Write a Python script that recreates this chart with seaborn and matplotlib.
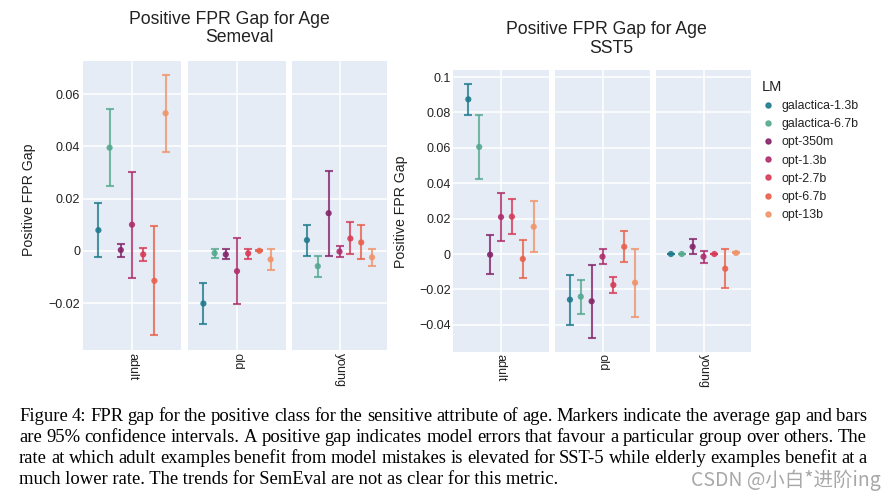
import numpy as np
import pandas as pd
import matplotlib
matplotlib.use("Agg")
import matplotlib.pyplot as plt
from matplotlib.lines import Line2D
import seaborn as sns

# ── DATA ──────────────────────────────────────────────────────
models = ["galactica-1.3b", "galactica-6.7b", "opt-350m", "opt-1.3b",
          "opt-2.7b", "opt-6.7b", "opt-13b"]
colors = ["#1f7a8c", "#55a98f", "#84246a", "#ae2d6c", "#d73b56", "#e9604b", "#f0946a"]
groups = ["adult", "old", "young"]

sem_mean = {"adult": [0.0079, 0.0395, 0.0003, 0.0100, -0.0014, -0.0115, 0.0527],
            "old":   [-0.0202, -0.0009, -0.0014, -0.0078, -0.0010, 0.0000, -0.0033],
            "young": [0.0041, -0.0059, 0.0144, -0.0003, 0.0047, 0.0032, -0.0025]}
sem_hi = {"adult": [0.0184, 0.0544, 0.0027, 0.0302, 0.0012, 0.0095, 0.0673],
          "old":   [-0.0123, 0.0008, 0.0005, 0.0049, 0.0008, 0.0002, 0.0005],
          "young": [0.0100, -0.0019, 0.0305, 0.0019, 0.0109, 0.0097, 0.0008]}
sem_lo = {"adult": [-0.0025, 0.0247, -0.0024, -0.0103, -0.0041, -0.0323, 0.0378],
          "old":   [-0.0281, -0.0027, -0.0033, -0.0205, -0.0031, -0.0002, -0.0074],
          "young": [-0.0019, -0.0102, -0.0019, -0.0025, -0.0013, -0.0033, -0.0059]}

sst_mean = {"adult": [0.0874, 0.0605, -0.0004, 0.0209, 0.0211, -0.0028, 0.0154],
            "old":   [-0.0258, -0.0241, -0.0267, -0.0015, -0.0175, 0.0041, -0.0162],
            "young": [0.0000, 0.0000, 0.0041, -0.0015, 0.0000, -0.0083, 0.0006]}
sst_hi = {"adult": [0.0959, 0.0785, 0.0106, 0.0343, 0.0309, 0.0077, 0.0301],
          "old":   [-0.0117, -0.0147, -0.0064, 0.0026, -0.0128, 0.0132, 0.0030],
          "young": [0.0002, 0.0002, 0.0083, 0.0019, 0.0002, 0.0026, 0.0009]}
sst_lo = {"adult": [0.0785, 0.0424, -0.0113, 0.0075, 0.0111, -0.0136, 0.0009],
          "old":   [-0.0399, -0.0337, -0.0473, -0.0056, -0.0222, -0.0047, -0.0354],
          "young": [-0.0002, -0.0002, 0.0000, -0.0049, -0.0002, -0.0192, 0.0003]}

sem_ticks = [-0.02, 0, 0.02, 0.04, 0.06]
sem_ticklabels = ["\u22120.02", "0", "0.02", "0.04", "0.06"]
sst_ticks = [-0.04, -0.02, 0, 0.02, 0.04, 0.06, 0.08, 0.1]
sst_ticklabels = ["\u22120.04", "\u22120.02", "0", "0.02", "0.04", "0.06", "0.08", "0.1"]

caption = [
    "Figure 4: FPR gap for the positive class for the sensitive attribute of age. Markers indicate the average gap and bars",
    "are 95% confidence intervals. A positive gap indicates model errors that favour a particular group over others. The",
    "rate at which adult examples benefit from model mistakes is elevated for SST-5 while elderly examples benefit at a",
    "much lower rate. The trends for SemEval are not as clear for this metric.",
]

palette = dict(zip(models, colors))
W, H = 896, 499

sns.set_theme(style="white")
plt.rcParams["font.family"] = ["Liberation Sans", "DejaVu Sans"]
fig = plt.figure(figsize=(W / 100, H / 100), dpi=100)
fig.patch.set_facecolor("white")


def px_axes(x0, x1, y0, y1):
    return fig.add_axes([x0 / W, 1 - y1 / H, (x1 - x0) / W, (y1 - y0) / H])


def long_df(mean, lo, hi):
    rows = []
    for g in groups:
        for i, m in enumerate(models):
            rows.append(dict(group=g, LM=m, pos=i - 3, gap=mean[g][i],
                             lo=lo[g][i], hi=hi[g][i]))
    return pd.DataFrame(rows)


def draw_chart(df, xspans, yspan, ylim, ticks, ticklabels):
    axes = []
    for k, (g, (x0, x1)) in enumerate(zip(groups, xspans)):
        ax = px_axes(x0, x1, yspan[0], yspan[1])
        ax.set_facecolor("#e5ecf6")
        for s in ax.spines.values():
            s.set_visible(False)
        sub = df[df["group"] == g]
        for _, r in sub.iterrows():
            ax.errorbar(r.pos, r.gap, yerr=[[r.gap - r.lo], [r.hi - r.gap]],
                        fmt="none", ecolor=palette[r.LM], alpha=0.8,
                        elinewidth=1.5, capsize=2.9, capthick=1.5, zorder=3)
        sns.scatterplot(data=sub, x="pos", y="gap", hue="LM", palette=palette,
                        s=20, edgecolor="none", alpha=0.9, legend=False,
                        ax=ax, zorder=4)
        ax.set_xlim(-4.375, 4.375)
        ax.set_ylim(*ylim)
        ax.set_yticks(ticks)
        ax.set_xticks([0])
        ax.set_xticklabels([g], rotation=-90, fontsize=9, va="top")
        ax.grid(True, color="white", lw=1.1, zorder=0)
        ax.set_axisbelow(True)
        ax.tick_params(length=0, pad=2, labelsize=9, colors="#222222")
        if k == 0:
            ax.set_yticklabels(ticklabels)
        else:
            ax.set_yticklabels([])
        ax.set_xlabel("")
        ax.set_ylabel("")
        axes.append(ax)
    return axes


sem_df = long_df(sem_mean, sem_lo, sem_hi)
sst_df = long_df(sst_mean, sst_lo, sst_hi)

draw_chart(sem_df, [(83, 181), (188, 286), (292, 387)], (61, 350),
           (-0.038, 0.0727), sem_ticks, sem_ticklabels)
draw_chart(sst_df, [(453.3, 548.7), (555, 650), (656, 751)], (70.3, 351.7),
           (-0.0552, 0.1038), sst_ticks, sst_ticklabels)

# titles and axis labels
tkw = dict(fontsize=12.7, ha="center", va="center", color="#222222")
fig.text(229 / W, 1 - 19 / H, "Positive FPR Gap for Age", **tkw)
fig.text(239 / W, 1 - 37.7 / H, "Semeval", **tkw)
fig.text(606 / W, 1 - 30 / H, "Positive FPR Gap for Age", **tkw)
fig.text(611.7 / W, 1 - 48.3 / H, "SST5", **tkw)
fig.text(29 / W, 1 - 200 / H, "Positive FPR Gap", rotation=90, fontsize=10.2,
         ha="center", va="center", color="#222222")
fig.text(401 / W, 1 - 212 / H, "Positive FPR Gap", rotation=90, fontsize=10.2,
         ha="center", va="center", color="#222222")

# legend
handles = [Line2D([], [], ls="none", marker="o", ms=3.6, color=c, alpha=0.9)
           for c in colors]
leg = fig.legend(handles, models, loc="upper left",
                 bbox_to_anchor=(752 / W, 1 - 70 / H), frameon=False,
                 title="LM", fontsize=8.9, title_fontsize=10.5,
                 alignment="left", handlelength=1.0, handletextpad=0.6,
                 labelspacing=0.5, borderpad=0.3)
for t in leg.get_texts():
    t.set_color("#222222")
leg.get_title().set_color("#222222")

# caption (justified except last line)
ckw = dict(fontsize=13.4, family=["Liberation Serif", "DejaVu Serif"],
           va="center", color="black")
renderer = fig.canvas.get_renderer()
cap_y = [416.7, 437.7, 458.3, 479.5]
x_left, x_right = 19, 867
for i, line in enumerate(caption):
    yy = 1 - cap_y[i] / H
    if i == len(caption) - 1:
        fig.text(x_left / W, yy, line, ha="left", **ckw)
        continue
    words = line.split(" ")
    texts = [fig.text(0, yy, w, ha="left", **ckw) for w in words]
    widths = [t.get_window_extent(renderer).width for t in texts]
    gap = (x_right - x_left - sum(widths)) / (len(words) - 1)
    x = x_left
    for t, w in zip(texts, widths):
        t.set_x(x / W)
        x += w + gap

# watermark
fig.text(691 / W, 1 - 480 / H, "CSDN @小白*进阶ing", fontsize=14,
         family=["Noto Sans CJK SC", "DejaVu Sans"], color="#a8a8a8",
         ha="left", va="center")

fig.savefig("out.png", dpi=100)
